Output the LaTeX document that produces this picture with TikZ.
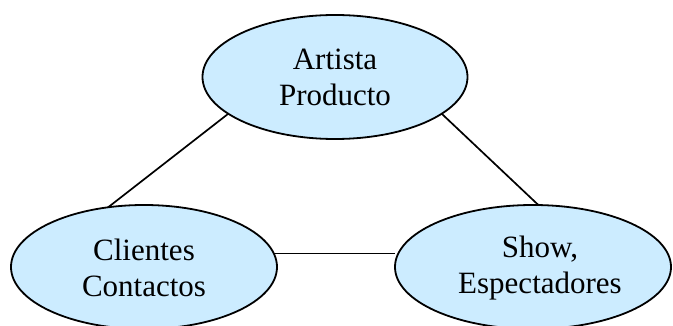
\documentclass[tikz,border=0pt]{standalone}
\usepackage{fontspec}
\setmainfont{Liberation Serif}
\usetikzlibrary{shapes.geometric}
\definecolor{bubblefill}{HTML}{CCECFF}
\begin{document}
\begin{tikzpicture}[x=1pt,y=1pt,
  bubble/.style={ellipse, draw=black, line width=1.8pt, fill=bubblefill, inner sep=0pt, outer sep=0pt,
    minimum width=265pt, minimum height=124pt},
  txt/.style={align=center, font=\fontsize{31}{36}\selectfont, inner sep=0pt},
  link/.style={draw=black, line width=1.7pt}]
\useasboundingbox (0,0) rectangle (673,-326);
\node[bubble] (artista) at (335,-77) {};
\node[txt] (artistatxt) at (335,-77) {Artista\\Producto};
\node[bubble, minimum width=266pt] (clientes) at (144,-267) {};
\node[txt] (clientestxt) at (144,-268) {Clientes\\Contactos};
\node[bubble, minimum width=276pt] (show) at (533,-267) {};
\node[txt] (showtxt) at (540,-268) {Show,\\Espectadores};
\begin{scope}[on background layer/.style={}]
\draw[link] (artista.199.6) -- (clientes.121);
\draw[link] (artista.341) -- (show.85);
\draw[link] (clientes.6.5) -- (clientes.6.5 -| show.west);
\end{scope}
\end{tikzpicture}
\end{document}
